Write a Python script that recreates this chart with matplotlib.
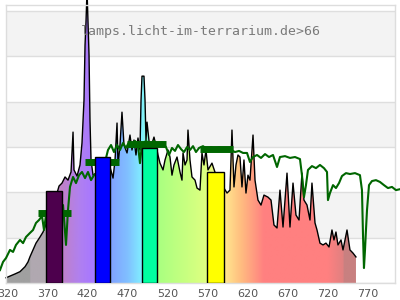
import numpy as np
import matplotlib
matplotlib.use('Agg')
import matplotlib.pyplot as plt
from matplotlib.colors import LinearSegmentedColormap

# lamp spectrum (black outline, rainbow fill)
lamp_nm = [318.1, 329.4, 335.6, 341.9, 345.6, 348.1, 351.9, 355.6, 360.6, 364.4,
           366.9, 373.1, 379.4, 384.4, 388.1, 391.9, 395.6, 399.4, 401.9, 403.1,
           406.9, 410.6, 413.1, 415.6, 416.9, 418.1, 419.4, 420.6, 421.9, 423.1,
           424.4, 426.9, 433.1, 438.1, 443.1, 448.1, 451.9, 454.4, 456.9, 458.1,
           460.6, 463.1, 465.6, 469.4, 473.1, 475.6, 478.1, 480.6, 483.1, 485.6,
           486.9, 488.1, 490.6, 491.9, 493.1, 494.4, 498.1, 503.1, 506.9, 508.1,
           510.6, 514.4, 516.9, 520.6, 523.1, 525.6, 528.1, 531.9, 535.6, 538.1,
           539.4, 541.9, 544.4, 545.6, 548.1, 550.6, 554.4, 556.9, 560.6, 563.1,
           565.6, 568.1, 570.6, 575.6, 580.6, 585.6, 590.6, 594.4, 598.1, 600.6,
           603.1, 605.6, 608.1, 610.6, 613.1, 615.6, 618.1, 620.6, 623.1, 626.9,
           629.4, 633.1, 636.9, 640.6, 645.6, 649.4, 653.1, 656.9, 660.6, 664.4,
           669.4, 673.1, 676.9, 680.6, 684.4, 688.1, 690.6, 694.4, 698.1, 700.6,
           704.4, 706.9, 710.6, 714.4, 718.1, 721.9, 725.6, 728.1, 730.6, 733.1,
           736.9, 739.4, 744.4, 748.1, 751.9, 755.6]
lamp_val = [2.3, 4.0, 5.0, 7.2, 9.3, 11.6, 14.6, 17.6, 20.3, 22.5,
            24.8, 31.3, 36.6, 42.8, 44.1, 46.8, 45.4, 49.0, 66.6, 49.9,
            47.2, 52.1, 61.8, 80.7, 105.0, 115.2, 129.0, 116.0, 100.6, 71.9,
            54.3, 47.6, 49.0, 52.0, 50.0, 51.2, 46.3, 54.3, 70.6, 52.0,
            60.9, 75.4, 60.9, 57.4, 65.3, 58.7, 63.1, 56.5, 64.0, 58.7,
            80.7, 91.3, 91.3, 80.7, 63.1, 71.0, 58.7, 64.4, 58.7, 56.5,
            52.9, 49.9, 54.3, 58.7, 55.6, 47.6, 52.1, 55.6, 49.0, 45.4,
            57.4, 52.1, 54.3, 67.5, 54.3, 46.8, 45.4, 41.9, 41.0, 57.4,
            52.1, 58.7, 49.9, 52.9, 47.6, 45.4, 41.9, 39.7, 41.0, 67.5,
            42.4, 52.1, 56.5, 55.6, 42.4, 54.3, 39.7, 47.6, 45.4, 65.3,
            45.4, 36.6, 34.4, 38.8, 37.9, 36.6, 25.6, 24.3, 41.0, 24.7,
            48.5, 24.7, 44.1, 30.0, 27.8, 48.5, 36.6, 34.4, 27.8, 44.1,
            26.5, 23.4, 17.6, 16.8, 17.6, 15.9, 23.4, 19.0, 22.5, 16.8,
            19.0, 14.6, 23.4, 14.6, 13.2, 11.5]

# reference curve (green)
ref_nm = [310.6, 314.4, 318.1, 323.1, 326.9, 330.6, 335.6, 339.4, 343.1, 348.1,
          351.9, 355.6, 359.4, 363.1, 365.6, 368.1, 379.4, 389.4, 393.1, 395.6,
          398.1, 401.9, 405.6, 409.4, 413.1, 416.9, 420.6, 424.4, 428.1, 435.6,
          441.9, 445.6, 449.4, 453.1, 456.9, 460.6, 464.4, 468.1, 471.9, 475.6,
          479.4, 483.1, 485.6, 488.1, 493.1, 498.1, 503.1, 508.1, 513.1, 518.1,
          521.9, 525.6, 529.4, 533.1, 536.9, 540.6, 544.4, 548.1, 551.9, 555.6,
          559.4, 564.4, 569.4, 574.4, 579.4, 584.4, 589.4, 594.4, 599.4, 604.4,
          609.4, 614.4, 619.4, 623.1, 626.9, 631.9, 636.9, 641.9, 646.9, 651.9,
          656.9, 660.6, 666.9, 673.1, 679.4, 685.6, 688.1, 690.6, 693.1, 695.6,
          700.6, 705.6, 710.6, 715.6, 719.4, 720.6, 723.1, 726.9, 730.6, 734.4,
          738.1, 743.1, 748.1, 754.4, 760.6, 763.1, 764.4, 765.6, 766.9, 768.1,
          769.4, 771.9, 775.6, 780.6, 785.6, 790.6, 795.6, 800.6, 805.6, 810.6]
ref_val = [5.7, 9.3, 11.0, 14.6, 13.7, 16.8, 19.0, 17.6, 20.3, 22.1,
           23.4, 26.5, 27.8, 29.6, 23.4, 30.0, 32.2, 34.4, 16.8, 32.2,
           42.4, 46.8, 44.1, 47.6, 49.0, 46.3, 49.0, 45.4, 47.6, 49.9,
           53.4, 58.7, 60.9, 57.8, 60.9, 58.7, 61.8, 59.6, 62.2, 60.4,
           62.7, 60.9, 52.9, 61.3, 62.7, 61.3, 62.7, 60.9, 62.2, 60.0,
           56.5, 59.6, 58.3, 60.9, 59.1, 57.8, 60.0, 58.7, 60.4, 57.8,
           59.6, 60.4, 59.1, 60.0, 59.1, 60.0, 59.1, 59.6, 58.7, 57.8,
           58.3, 57.4, 57.4, 53.4, 55.6, 56.5, 55.2, 56.9, 55.6, 56.5,
           51.2, 55.6, 56.0, 55.2, 55.6, 54.7, 47.6, 37.9, 43.2, 49.9,
           51.6, 50.7, 52.1, 50.7, 49.0, 36.6, 39.7, 43.2, 41.9, 44.1,
           47.2, 48.5, 48.1, 48.5, 47.6, 41.0, 21.2, 6.6, 14.6, 23.4,
           32.2, 43.2, 45.0, 45.4, 44.6, 43.2, 41.9, 42.4, 41.0, 41.4]

# band bars
band_lo = [368, 429, 488, 569]
band_hi = [388, 448.5, 507.3, 591]
band_val = [40.5, 55.5, 59.4, 48.8]
band_col = ['#4d004d', '#0000ff', '#00ffa0', '#ffff00']

# green band levels
lvl_lo = [358, 417, 469.4, 560.6]
lvl_hi = [399.4, 459.4, 518.1, 601.9]
lvl_val = [31.1, 53.2, 61.5, 59.1]

xticks = [320, 370, 420, 470, 520, 570, 620, 670, 720, 770]
title = 'lamps.licht-im-terrarium.de>66'

x0, x1 = 318.1, 804.4
ymax = 122.7

fig = plt.figure(figsize=(4, 3), dpi=100)
ax = fig.add_axes([0.015, 0.0567, 0.9725, 0.9266])

# background bands + grid
for lo in [20, 60, 100]:
    ax.axhspan(lo, lo + 20, color='#f3f3f3', zorder=0, lw=0)
for g in range(0, 121, 20):
    ax.axhline(g, color='#dedede', lw=1, zorder=0.5)

# rainbow fill clipped by the lamp curve
stops = [(318, '#a0a0a0'), (348, '#a0a0a0'), (348, '#b0a8b0'), (368, '#b0a8b0'),
         (388, '#c080c8'), (410, '#b080f0'), (425, '#a878ff'), (448, '#80a0ff'),
         (470, '#80c0ff'), (488, '#80f0ff'), (507, '#a8ff80'), (569, '#e0ff80'),
         (591, '#ffe890'), (610, '#ffc080'), (625, '#ffa080'), (640, '#ff8080'),
         (720, '#ff8080'), (739, '#e08080'), (740, '#c88080'), (756, '#c88080')]
lo_w, hi_w = stops[0][0], stops[-1][0]
cmap = LinearSegmentedColormap.from_list(
    'spec', [((w - lo_w) / (hi_w - lo_w), c) for w, c in stops], N=1024)
poly = ax.fill_between(lamp_nm, 0, lamp_val, color='none', lw=0)
grad = np.linspace(0, 1, 1024).reshape(1, -1)
im = ax.imshow(grad, extent=[lo_w, hi_w, 0, ymax], aspect='auto', cmap=cmap,
               origin='lower', zorder=1, interpolation='bilinear')
im.set_clip_path(poly.get_paths()[0], transform=ax.transData)

ax.plot(lamp_nm, lamp_val, color='black', lw=1.0, zorder=2, clip_on=False)
ax.plot(ref_nm, ref_val, color='#006600', lw=1.5, zorder=3, clip_on=False)

for a, b, v in zip(lvl_lo, lvl_hi, lvl_val):
    ax.plot([a, b], [v, v], color='#006600', lw=5, solid_capstyle='butt', zorder=4)

for a, b, v, c in zip(band_lo, band_hi, band_val, band_col):
    ax.bar(a, v, width=b - a, align='edge', color=c, edgecolor='black', lw=1, zorder=5)

ax.text(0.5, 0.906, title, transform=ax.transAxes, ha='center', va='center',
        family='DejaVu Sans Mono', fontsize=9.5, color='#7a7a7a', zorder=6)

ax.set_xlim(x0, x1)
ax.set_ylim(0, ymax)
ax.set_xticks(xticks)
ax.set_xticklabels([str(t) for t in xticks])
ax.set_yticks([])
ax.tick_params(axis='x', length=0, pad=4.5, labelsize=8, labelcolor='#555555')
for s in ax.spines.values():
    s.set_color('#dddddd')
    s.set_linewidth(1)

fig.savefig('out.png', dpi=100)
